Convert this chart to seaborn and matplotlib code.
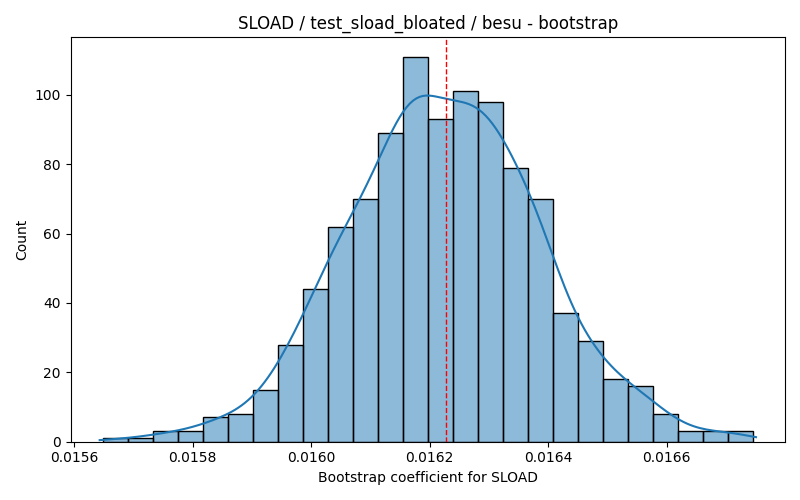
import numpy as np
import pandas as pd
import seaborn as sns
from matplotlib import pyplot as plt

# bootstrap histogram (1000 resamples, 26 bins)
coef_lo = 0.015649
coef_hi = 0.016745
counts = [1, 1, 3, 3, 7, 8, 15, 28, 44, 62, 70, 89, 111,
          93, 101, 98, 79, 70, 37, 29, 18, 16, 8, 3, 3, 3]
point_estimate = 0.016227

edges = np.linspace(coef_lo, coef_hi, len(counts) + 1)
centers = (edges[:-1] + edges[1:]) / 2
df = pd.DataFrame({"coef": centers, "n": counts})

# weighted kde uses the effective sample size, so narrow the bandwidth
# back to what 1000 raw samples would give
fig, ax = plt.subplots(figsize=(8, 5), dpi=100)
sns.histplot(data=df, x="coef", weights="n", bins=len(counts),
             binrange=(coef_lo, coef_hi), kde=True,
             kde_kws={"bw_adjust": 0.4, "cut": 0.4}, ax=ax)
ax.axvline(point_estimate, color="red", linestyle="--", linewidth=1)
pad = 0.05 * (coef_hi - coef_lo)
ax.set_xlim(coef_lo - pad, coef_hi + pad)
ax.set_title("SLOAD / test_sload_bloated / besu - bootstrap")
ax.set_xlabel("Bootstrap coefficient for SLOAD")
ax.set_ylabel("Count")
plt.tight_layout()
plt.savefig("out.png")
